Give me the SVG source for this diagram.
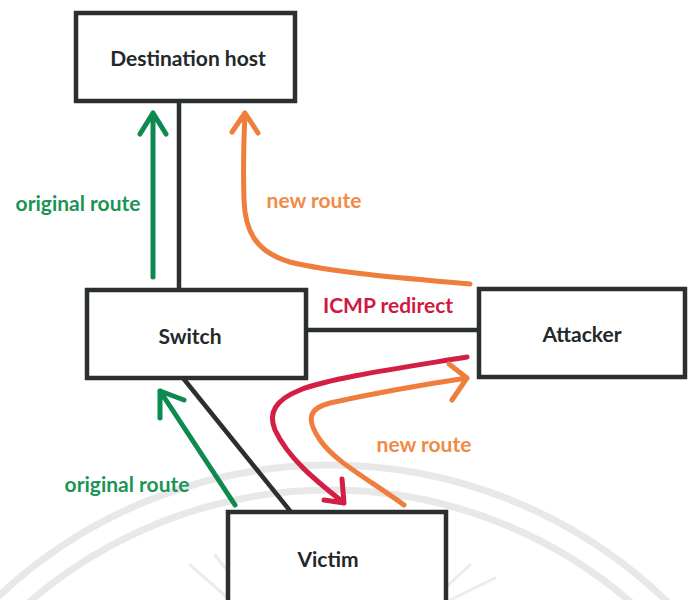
<svg xmlns="http://www.w3.org/2000/svg" width="689" height="600" viewBox="0 0 689 600">
<style>
.box{fill:#fff;stroke:#2b302f;stroke-width:4.5}
.lbl{font-family:Lato,"Open Sans","Liberation Sans",sans-serif;font-weight:bold;font-size:21px;fill:#23282a;text-anchor:middle;dominant-baseline:central}
.note{font-family:Lato,"Open Sans","Liberation Sans",sans-serif;font-weight:bold;font-size:21px;text-anchor:middle;dominant-baseline:central}
.link{stroke:#2b302f;stroke-width:4.5;fill:none}
.pen{fill:none;stroke-width:5;stroke-linecap:round;stroke-linejoin:round}
.green{stroke:#0d8a4f}
.orange{stroke:#ef7d3e}
.red{stroke:#d41f45}
.wm{fill:none;stroke:#e8e8e8;stroke-width:7}
.ray{stroke:#ececec;stroke-width:3;stroke-linecap:round}
</style>
<rect width="689" height="600" fill="#fff"/>
<g id="watermark">
<circle class="wm" cx="330" cy="949" r="484"/>
<circle class="wm" cx="330" cy="949" r="459"/>
<g class="ray">
<line x1="230" y1="600" x2="190" y2="565"/>
<line x1="250" y1="600" x2="215" y2="555"/>
<line x1="270" y1="600" x2="245" y2="548"/>
<line x1="292" y1="600" x2="278" y2="545"/>
<line x1="315" y1="600" x2="310" y2="545"/>
<line x1="340" y1="600" x2="342" y2="545"/>
<line x1="365" y1="600" x2="375" y2="546"/>
<line x1="390" y1="600" x2="408" y2="550"/>
<line x1="412" y1="600" x2="440" y2="556"/>
<line x1="432" y1="600" x2="470" y2="565"/>
<line x1="450" y1="600" x2="495" y2="578"/>
</g>
</g>
<g id="connectors">
<line class="link" x1="179" y1="101" x2="179" y2="290"/>
<line class="link" x1="306" y1="330" x2="478" y2="330"/>
<line class="link" x1="183" y1="378" x2="291" y2="512"/>
</g>
<g id="dest">
<rect class="box" x="76" y="13" width="219" height="88"/>
<text class="lbl" x="188" y="57">Destination host</text>
</g>
<g id="switch">
<rect class="box" x="87" y="290" width="219" height="88"/>
<text class="lbl" x="190" y="335">Switch</text>
</g>
<g id="attacker">
<rect class="box" x="479" y="289" width="206" height="88"/>
<text class="lbl" x="582" y="333">Attacker</text>
</g>
<g id="victim">
<rect class="box" x="228" y="512" width="218" height="94"/>
<text class="lbl" x="328" y="558">Victim</text>
</g>
<g id="routes">
<path class="pen green" d="M153 277 L153 113 M140 134 L153 113 L166 134"/>
<path class="pen orange" d="M470 284 C400 278 330 272 290 262 C255 252 245 230 244 200 C243 170 244 135 245 113 M232 132 L245 113 L258 133"/>
<path class="pen green" d="M235 505 L160 391 M160 418 L160 391 L184 400"/>
<path class="pen red" d="M467 357 C400 368 330 378 300 390 C275 400 268 413 275 430 C288 458 315 480 344 503 M342 479 L344 503 L324 500"/>
<path class="pen orange" d="M404 505 C370 480 335 462 320 440 C305 418 310 408 330 403 C375 393 420 385 467 378 M449 364 L467 378 L452 400"/>
</g>
<g id="labels">
<text class="note" x="78" y="202" fill="#1b9456">original route</text>
<text class="note" x="314" y="199" fill="#f08a46">new route</text>
<text class="note" x="388" y="304" fill="#d0193f">ICMP redirect</text>
<text class="note" x="127" y="483" fill="#1b9456">original route</text>
<text class="note" x="424" y="443" fill="#f08a46">new route</text>
</g>
</svg>
